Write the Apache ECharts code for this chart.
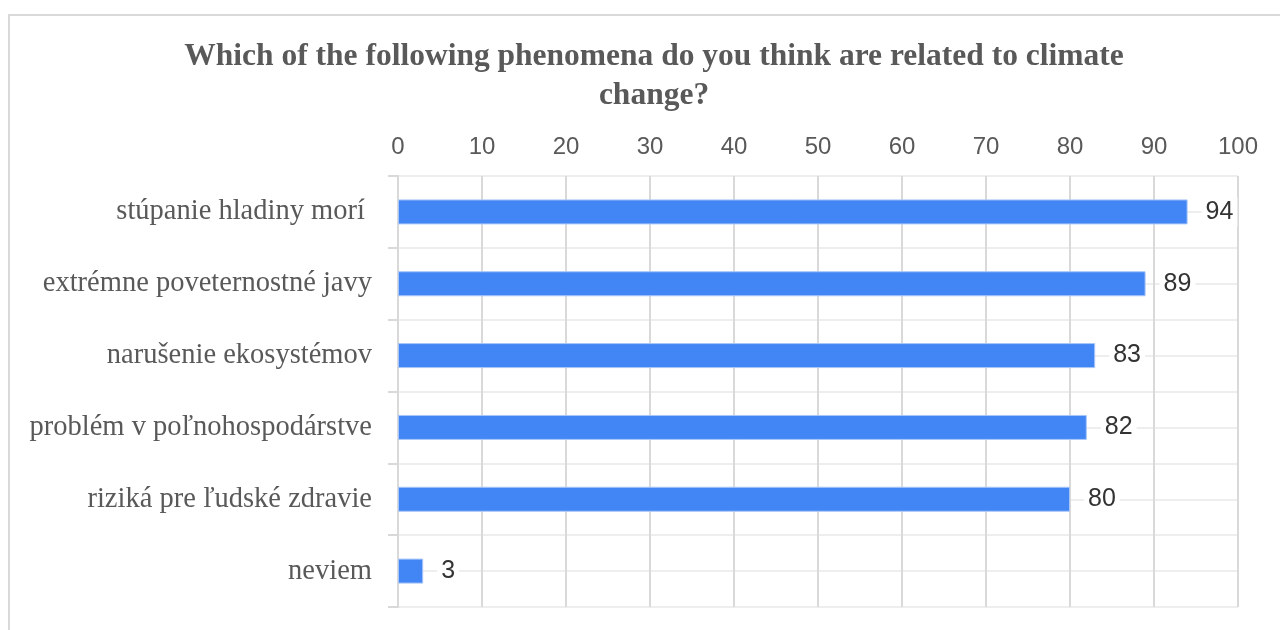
<!DOCTYPE html>
<html>
<head>
<meta charset="utf-8">
<script src="https://cdn.jsdelivr.net/npm/echarts@6/dist/echarts.min.js"></script>
<style>
  html, body { margin: 0; padding: 0; background: #fff; }
  #chart { width: 1280px; height: 630px; }
</style>
</head>
<body>
<div id="chart"></div>
<script>
const titleText = 'Which of the following phenomena do you think are related to climate\nchange?';
const categories = [
  'stúpanie hladiny morí ',
  'extrémne poveternostné javy',
  'narušenie ekosystémov',
  'problém v poľnohospodárstve',
  'riziká pre ľudské zdravie',
  'neviem'
];
const values = [94, 89, 83, 82, 80, 3];
const xTicks = { min: 0, max: 100, interval: 10 };

const chart = echarts.init(document.getElementById('chart'), null, { renderer: 'canvas' });
chart.setOption({
  animation: false,
  backgroundColor: '#ffffff',
  graphic: [{
    type: 'rect',
    shape: { x: 9, y: 15, width: 1300, height: 700 },
    style: { fill: 'none', stroke: '#d9d9d9', lineWidth: 2 },
    silent: true, z: -10
  }],
  title: {
    text: titleText,
    left: 649, top: 32, textAlign: 'center',
    textStyle: {
      fontFamily: 'Liberation Serif', fontWeight: 'bold', fontSize: 31.5,
      color: '#595959', lineHeight: 39
    }
  },
  grid: { left: 398, right: 42, top: 176, bottom: 23, containLabel: false },
  xAxis: {
    type: 'value', position: 'top',
    min: xTicks.min, max: xTicks.max, interval: xTicks.interval,
    axisLine: { show: false }, axisTick: { show: false },
    axisLabel: { fontFamily: 'Liberation Sans', fontSize: 24, color: '#595959', margin: 17 },
    splitLine: { show: true, lineStyle: { color: '#d9d9d9', width: 2 } }
  },
  yAxis: [{
    type: 'category', data: categories, inverse: true,
    axisLine: { show: true, lineStyle: { color: '#d9d9d9', width: 2 } },
    axisTick: { show: true, length: 10, lineStyle: { color: '#d9d9d9', width: 2 } },
    axisLabel: { fontFamily: 'Liberation Serif', fontSize: 28.5, color: '#595959', margin: 26 },
    splitLine: { show: false }
  }, {
    type: 'value', min: 0, max: categories.length * 2, interval: 1,
    position: 'left', show: true,
    axisLine: { show: false }, axisTick: { show: false }, axisLabel: { show: false },
    splitLine: { show: true, lineStyle: { color: '#eeeeee', width: 2 } },
    z: 0
  }],
  series: [{
    type: 'bar', data: values, yAxisIndex: 0,
    barWidth: 25,
    itemStyle: { color: '#4285F4', borderColor: '#a9c6f7', borderWidth: 1 },
    label: {
      show: true, position: 'right', distance: 14,
      fontFamily: 'Liberation Sans', fontSize: 25, color: '#333333',
      backgroundColor: '#ffffff', padding: [2, 4]
    }
  }]
});
</script>
</body>
</html>
